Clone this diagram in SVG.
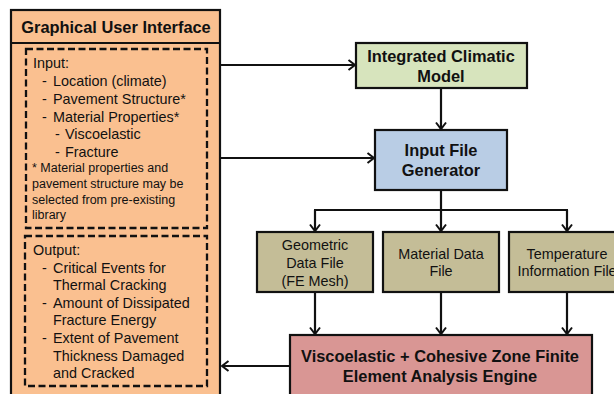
<svg xmlns="http://www.w3.org/2000/svg" width="614" height="394" viewBox="0 0 614 394">
  <style>
    .box { stroke: #111; stroke-width: 2.2; }
    .dash { fill: none; stroke: #111; stroke-width: 2.3; stroke-dasharray: 7 3.5; }
    .t { font-family: "Liberation Sans", Arial, sans-serif; font-size: 14.4px; fill: #111; }
    .n { font-family: "Liberation Sans", Arial, sans-serif; font-size: 12.5px; fill: #111; }
    .b { font-family: "Liberation Sans", Arial, sans-serif; font-size: 16.4px; font-weight: bold; fill: #111; text-anchor: middle; }
    .c { text-anchor: middle; }
    .wire { fill: none; stroke: #111; stroke-width: 2.2; }
  </style>
  <defs>
    <marker id="arrow" viewBox="0 0 10 12" refX="8" refY="6" markerWidth="10" markerHeight="12" markerUnits="userSpaceOnUse" orient="auto">
      <path d="M1.5,1 L8,6 L1.5,11" fill="none" stroke="#111" stroke-width="2"/>
    </marker>
  </defs>

  <rect width="614" height="394" fill="#fff"/>

  <!-- GUI panel -->
  <g id="gui">
    <rect class="box" x="11" y="10" width="209" height="400" fill="#fac090"/>
    <line x1="11" y1="43" x2="220" y2="43" stroke="#111" stroke-width="2.2"/>
    <text class="b" x="116" y="33">Graphical User Interface</text>
  </g>

  <g id="gui-input">
    <rect class="dash" x="26" y="49" width="181" height="179"/>
    <text class="t" x="33" y="68">Input:</text>
    <text class="t" y="86"><tspan x="42">-</tspan><tspan x="53">Location (climate)</tspan></text>
    <text class="t" y="104"><tspan x="42">-</tspan><tspan x="53">Pavement Structure*</tspan></text>
    <text class="t" y="122"><tspan x="42">-</tspan><tspan x="53">Material Properties*</tspan></text>
    <text class="t" y="139"><tspan x="55">-</tspan><tspan x="65">Viscoelastic</tspan></text>
    <text class="t" y="157"><tspan x="55">-</tspan><tspan x="65">Fracture</tspan></text>
    <text class="n" x="32" y="172">* Material properties and</text>
    <text class="n" x="32" y="188">pavement structure may be</text>
    <text class="n" x="32" y="204">selected from pre-existing</text>
    <text class="n" x="32" y="219">library</text>
  </g>

  <g id="gui-output">
    <rect class="dash" x="25" y="236" width="182" height="150"/>
    <text class="t" x="33" y="255">Output:</text>
    <text class="t" y="273"><tspan x="42">-</tspan><tspan x="53">Critical Events for</tspan></text>
    <text class="t" x="53" y="290">Thermal Cracking</text>
    <text class="t" y="308"><tspan x="42">-</tspan><tspan x="53">Amount of Dissipated</tspan></text>
    <text class="t" x="53" y="325">Fracture Energy</text>
    <text class="t" y="343"><tspan x="42">-</tspan><tspan x="53">Extent of Pavement</tspan></text>
    <text class="t" x="53" y="361">Thickness Damaged</text>
    <text class="t" x="53" y="378">and Cracked</text>
  </g>

  <!-- processing nodes -->
  <g id="climatic-model">
    <rect class="box" x="356" y="43" width="171" height="45" fill="#d7e4bd"/>
    <text class="b" x="441" y="62">Integrated Climatic</text>
    <text class="b" x="441" y="82">Model</text>
  </g>

  <g id="input-generator">
    <rect class="box" x="375" y="130" width="132" height="60" fill="#b9cde5"/>
    <text class="b" x="441" y="156">Input File</text>
    <text class="b" x="441" y="176">Generator</text>
  </g>

  <g id="geometric-file">
    <rect class="box" x="257" y="232" width="116" height="60" fill="#c4bd97"/>
    <text class="t c" x="315" y="250">Geometric</text>
    <text class="t c" x="315" y="268">Data File</text>
    <text class="t c" x="315" y="286">(FE Mesh)</text>
  </g>

  <g id="material-file">
    <rect class="box" x="383" y="232" width="116" height="60" fill="#c4bd97"/>
    <text class="t c" x="441" y="259">Material Data</text>
    <text class="t c" x="441" y="276">File</text>
  </g>

  <g id="temperature-file">
    <rect class="box" x="509" y="232" width="116" height="60" fill="#c4bd97"/>
    <text class="t c" x="567" y="259">Temperature</text>
    <text class="t c" x="567" y="276">Information File</text>
  </g>

  <g id="fe-engine">
    <rect class="box" x="290" y="335" width="302" height="80" fill="#d99694"/>
    <text class="b" x="440" y="362">Viscoelastic + Cohesive Zone Finite</text>
    <text class="b" x="440" y="382">Element Analysis Engine</text>
  </g>

  <!-- connectors -->
  <g id="connectors">
    <path class="wire" d="M221,65 H355" marker-end="url(#arrow)"/>
    <path class="wire" d="M221,158 H374" marker-end="url(#arrow)"/>
    <path class="wire" d="M441,89 V129" marker-end="url(#arrow)"/>
    <path class="wire" d="M441,191 V210"/>
    <path class="wire" d="M314,210 H568"/>
    <path class="wire" d="M315,210 V231" marker-end="url(#arrow)"/>
    <path class="wire" d="M441,210 V231" marker-end="url(#arrow)"/>
    <path class="wire" d="M567,210 V231" marker-end="url(#arrow)"/>
    <path class="wire" d="M315,293 V334" marker-end="url(#arrow)"/>
    <path class="wire" d="M441,293 V334" marker-end="url(#arrow)"/>
    <path class="wire" d="M567,293 V334" marker-end="url(#arrow)"/>
    <path class="wire" d="M289,366 H222" marker-end="url(#arrow)"/>
  </g>
</svg>
